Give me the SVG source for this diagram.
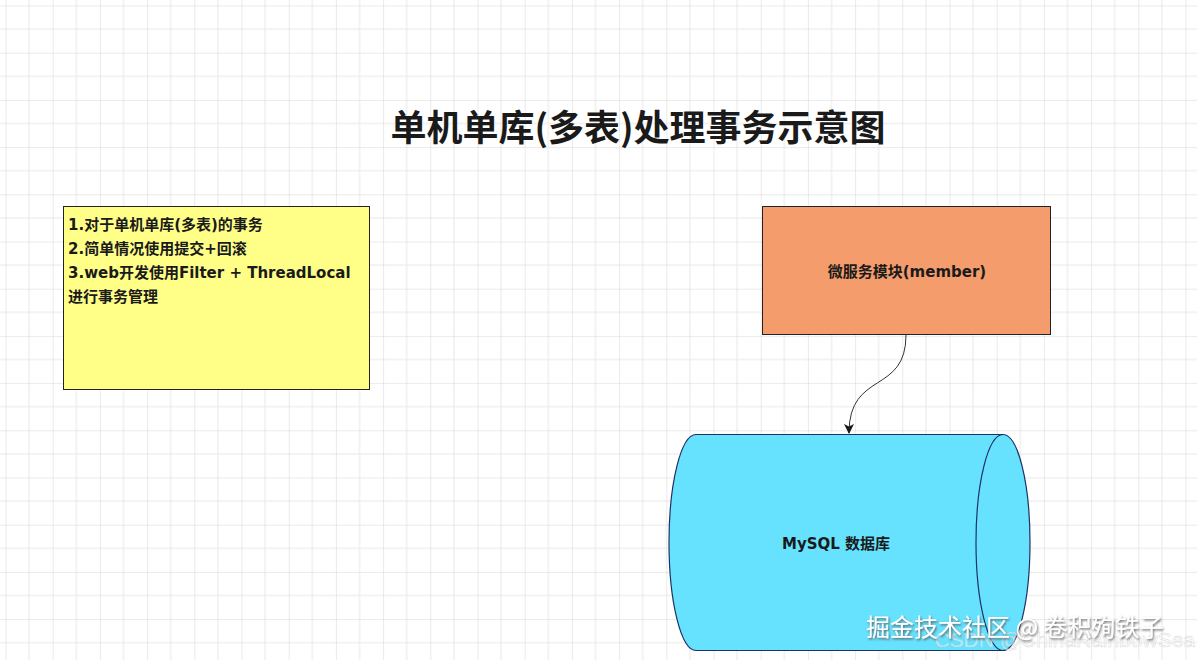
<svg xmlns="http://www.w3.org/2000/svg" width="1197" height="660" viewBox="0 0 1197 660">
<defs>
<pattern id="grid" x="5.5" y="5.5" width="47.2" height="47.2" patternUnits="userSpaceOnUse">
<path d="M23.6 0V47.2M0 23.6H47.2" stroke="#e8e8e8" stroke-width="1" fill="none"/>
<path d="M0 0V47.2M0 0H47.2" stroke="#d6d6d6" stroke-width="1" fill="none"/>
</pattern>
<marker id="arr" viewBox="0 0 10 10" refX="9" refY="5" markerWidth="10" markerHeight="10" markerUnits="userSpaceOnUse" orient="auto">
<path d="M0 0L10 5L0 10L2.5 5Z" fill="#1a1a1a"/>
</marker>
<filter id="sh" x="-5%" y="-20%" width="110%" height="140%">
<feDropShadow dx="1" dy="1.5" stdDeviation="0.8" flood-color="#555" flood-opacity="0.9"/>
</filter>
</defs>
<style>
.t{font-family:"DejaVu Sans","Noto Sans CJK SC",sans-serif;font-weight:bold;fill:#1a1a1a}
.b{stroke:#222;stroke-width:1}
</style>
<rect width="1197" height="660" fill="#ffffff"/>
<rect width="1197" height="660" fill="url(#grid)"/>
<g id="title"><text x="638" y="141" font-family="Noto Sans CJK SC,sans-serif" font-weight="bold" fill="#1a1a1a" font-size="36" text-anchor="middle">单机单库(多表)处理事务示意图</text></g>
<g id="note">
<rect class="b" x="63.5" y="206.5" width="306" height="183" fill="#ffff88"/>
<text class="t" font-size="15" x="68" y="230">1.对于单机单库(多表)的事务</text>
<text class="t" font-size="15" x="68" y="254">2.简单情况使用提交+回滚</text>
<text class="t" font-size="15" x="68" y="278">3.web开发使用Filter + ThreadLocal</text>
<text class="t" font-size="15" x="68" y="302">进行事务管理</text>
</g>
<g id="member">
<rect class="b" x="762.5" y="206.5" width="288" height="128" fill="#f49c6c"/>
<text class="t" font-size="15" x="907" y="277" text-anchor="middle">微服务模块(member)</text>
</g>
<g id="mysql">
<path d="M696 434.5H1003A27 108 0 0 1 1003 650.5H696A27 108 0 0 1 696 434.5Z" fill="#66e2ff" stroke="#1c3264" stroke-width="1.2"/>
<path d="M1003 434.5A27 108 0 0 0 1003 650.5" fill="none" stroke="#1c3264" stroke-width="1.2"/>
<text class="t" font-size="15" x="836" y="549" text-anchor="middle">MySQL 数据库</text>
</g>
<g id="connectors">
<path d="M906 335C906 395 849 370 849 433" fill="none" stroke="#333" stroke-width="1" marker-end="url(#arr)"/>
</g>
<g id="watermark">
<text x="1195" y="647" font-family="Liberation Sans,sans-serif" font-size="21" text-anchor="end" fill="#ffffff" fill-opacity="0.55" stroke="#bbbbbb" stroke-opacity="0.6" stroke-width="0.5">CSDN @ChinaRainbowSea</text>
<text x="866" y="636" font-family="Noto Sans CJK SC,sans-serif" font-size="24" fill="#ffffff" filter="url(#sh)">掘金技术社区 @ 卷积殉铁子</text>
</g>
</svg>
